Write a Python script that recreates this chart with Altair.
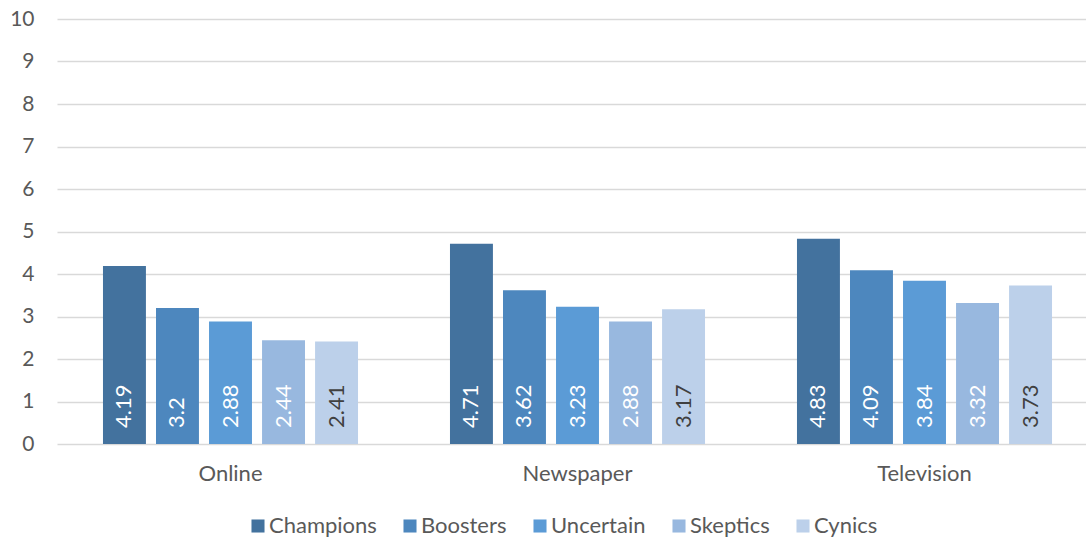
import altair as alt
import pandas as pd

media = ["Online", "Newspaper", "Television"]
groups = ["Champions", "Boosters", "Uncertain", "Skeptics", "Cynics"]
colors = ["#43729E", "#4D87BE", "#5B9BD6", "#98B8DF", "#BCD0EA"]
label_colors = ["#FFFFFF", "#FFFFFF", "#FFFFFF", "#FFFFFF", "#404040"]
values = {
    "Online": [4.19, 3.2, 2.88, 2.44, 2.41],
    "Newspaper": [4.71, 3.62, 3.23, 2.88, 3.17],
    "Television": [4.83, 4.09, 3.84, 3.32, 3.73],
}

rows = []
for m in media:
    for g, v, lc in zip(groups, values[m], label_colors):
        rows.append({"media": m, "group": g, "value": v, "lc": lc, "label": f"{v:g}"})
df = pd.DataFrame(rows)

FONT = "Lato"
GRAY = "#595959"

x_scale = alt.Scale(range=[0, 1041], paddingInner=0.265, paddingOuter=0.1325)
xo_scale = alt.Scale(paddingInner=0.19, paddingOuter=0)

x = alt.X("media:N", sort=media, title=None, scale=x_scale,
          axis=alt.Axis(labelAngle=0, labelFontSize=22, labelColor=GRAY, labelFont=FONT,
                        domain=False, ticks=False, labelPadding=19))
xo = alt.XOffset("group:N", sort=groups, scale=xo_scale)

base = alt.Chart(df)

bars = base.mark_bar().encode(
    x=x, xOffset=xo,
    y=alt.Y("value:Q", title=None,
            scale=alt.Scale(domain=[0, 10]),
            axis=alt.Axis(values=list(range(0, 11)), labelFontSize=21, labelColor=GRAY,
                          labelFont=FONT, domain=False, ticks=False,
                          labelPadding=23, gridColor="#D9D9D9", gridWidth=1.3)),
    color=alt.Color("group:N", sort=groups,
                    scale=alt.Scale(domain=groups, range=colors),
                    legend=alt.Legend(title=None, orient="none", direction="horizontal",
                                      legendX=190, legendY=496,
                                      symbolType="square", symbolSize=170,
                                      symbolStrokeWidth=0, labelFontSize=22,
                                      labelColor=GRAY, labelFont=FONT,
                                      columnPadding=22, labelOffset=0)),
)

labels = base.mark_text(angle=270, align="left", baseline="middle", dx=16,
                        fontSize=22, font=FONT).encode(
    x=alt.X("media:N", sort=media, scale=x_scale),
    xOffset=alt.XOffset("group:N", sort=groups, scale=xo_scale),
    y=alt.datum(0),
    text="label:N",
    color=alt.Color("lc:N", scale=None),
)

chart = alt.layer(bars, labels).properties(
    width=1029, height=425,
    autosize=alt.AutoSizeParams(type="none"),
    padding={"left": 57, "top": 19, "right": 0, "bottom": 95},
).configure(background="white").configure_view(stroke=None)

chart.save("out.html", embed_options={"renderer": "svg", "actions": False})
